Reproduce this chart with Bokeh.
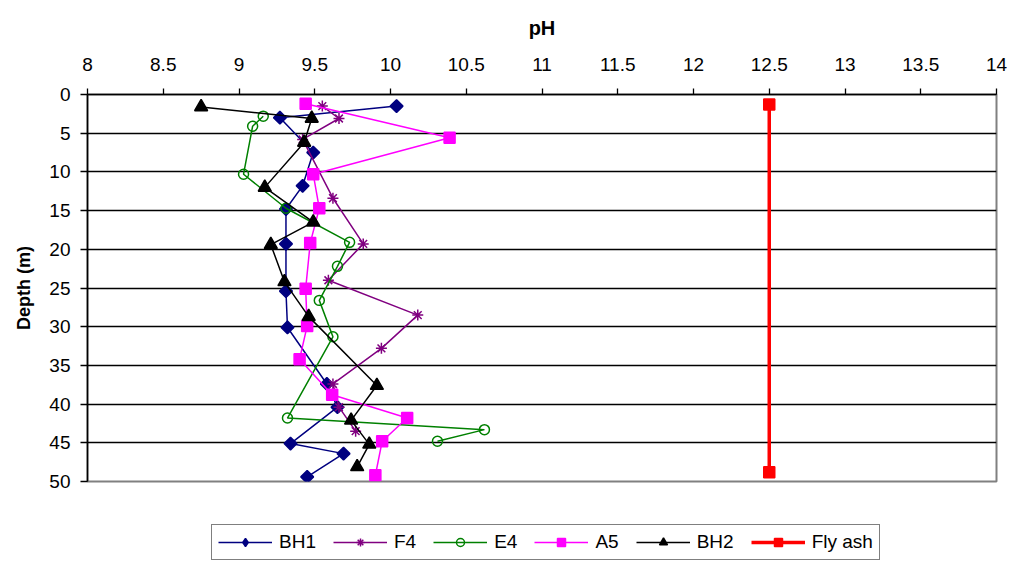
import math
from bokeh.plotting import figure
from bokeh.layouts import column
from bokeh.models import (Range1d, FixedTicker, NumeralTickFormatter, Legend, LegendItem)
from bokeh.embed import file_html
from bokeh.resources import INLINE

# ---- data (pH vs depth) ----
bh1_depth = [1.5, 3.0, 7.5, 11.8, 14.8, 19.3, 25.4, 30.1, 37.4, 40.4, 45.1, 46.4, 49.4]
bh1_ph = [10.04, 9.27, 9.49, 9.42, 9.31, 9.31, 9.31, 9.32, 9.58, 9.65, 9.34, 9.69, 9.45]

f4_depth = [1.5, 3.1, 5.8, 13.4, 19.3, 24.0, 28.5, 32.8, 37.4, 40.4, 43.5]
f4_ph = [9.55, 9.66, 9.42, 9.62, 9.82, 9.59, 10.18, 9.94, 9.62, 9.66, 9.77]

e4_depth = [2.8, 4.1, 10.3, 14.7, 19.1, 22.2, 26.6, 31.3, 41.8, 43.3, 44.8]
e4_ph = [9.16, 9.09, 9.03, 9.31, 9.73, 9.65, 9.53, 9.62, 9.32, 10.62, 10.31]

a5_depth = [1.2, 5.6, 10.3, 14.7, 19.2, 25.1, 29.9, 34.2, 38.8, 41.8, 44.8, 49.2]
a5_ph = [9.44, 10.39, 9.49, 9.53, 9.47, 9.44, 9.45, 9.40, 9.615, 10.11, 9.945, 9.90]

bh2_depth = [1.6, 3.1, 6.2, 12.0, 16.5, 19.4, 24.2, 28.7, 37.6, 42.1, 45.2, 48.1]
bh2_ph = [8.75, 9.48, 9.43, 9.17, 9.49, 9.21, 9.30, 9.46, 9.91, 9.74, 9.86, 9.78]

flyash_depth = [1.3, 48.8]
flyash_ph = [12.5, 12.5]

series_names = ["BH1", "F4", "E4", "A5", "BH2", "Fly ash"]

x_ticks = [8, 8.5, 9, 9.5, 10, 10.5, 11, 11.5, 12, 12.5, 13, 13.5, 14]
y_ticks = [0, 5, 10, 15, 20, 25, 30, 35, 40, 45, 50]

FONT = "Liberation Sans"

p = figure(frame_width=909, frame_height=387, output_backend="svg", toolbar_location=None,
           x_axis_location="above", x_range=Range1d(8, 14), y_range=Range1d(50, 0),
           min_border_left=87, min_border_right=14, min_border_top=94, min_border_bottom=10,
           background_fill_color="white", border_fill_color="white")

p.outline_line_color = "#808080"
p.outline_line_width = 2

p.xgrid.grid_line_color = None
p.ygrid.grid_line_color = "black"
p.ygrid.grid_line_width = 1.3
p.ygrid.ticker = FixedTicker(ticks=y_ticks)

xa = p.xaxis[0]
xa.ticker = FixedTicker(ticks=x_ticks)
xa.formatter = NumeralTickFormatter(format="0.[0]")
xa.axis_label = "pH"
ya = p.yaxis[0]
ya.ticker = FixedTicker(ticks=y_ticks)
ya.axis_label = "Depth (m)"

for ax in (xa, ya):
    ax.axis_line_color = "black"
    ax.axis_line_width = 1.5
    ax.major_tick_line_color = "black"
    ax.major_tick_line_width = 1.3
    ax.major_tick_in = 0
    ax.minor_tick_line_color = None
    ax.major_label_text_font = FONT
    ax.major_label_text_font_size = "19px"
    ax.major_label_text_color = "black"
    ax.axis_label_text_font = FONT
    ax.axis_label_text_font_style = "bold"
    ax.axis_label_text_color = "black"

xa.major_tick_out = 6
xa.major_label_standoff = 18
xa.axis_label_text_font_size = "20px"
xa.axis_label_standoff = 16
ya.major_tick_out = 7
ya.major_label_standoff = 10
ya.axis_label_text_font_size = "18px"
ya.axis_label_standoff = 12

# style per series: (colour, marker, size, angle, fill, line width of series line)
styles = [
    ("#000080", "square", 9, math.pi / 4, "#000080", 1.5),
    ("#800080", "asterisk", 11, 0.0, None, 1.5),
    ("#008000", "circle", 10, 0.0, None, 1.5),
    ("#FF00FF", "square", 11, 0.0, "#FF00FF", 1.5),
    ("black", "triangle", 13, 0.0, "black", 1.5),
    ("#FF0000", "square", 11, 0.0, "#FF0000", 3.5),
]
data = [(bh1_ph, bh1_depth), (f4_ph, f4_depth), (e4_ph, e4_depth),
        (a5_ph, a5_depth), (bh2_ph, bh2_depth), (flyash_ph, flyash_depth)]

for (xs, ys), (col, mk, sz, ang, fill, lw) in zip(data, styles):
    p.line(xs, ys, line_color=col, line_width=lw)
    p.scatter(xs, ys, marker=mk, size=sz, angle=ang, fill_color=fill,
              line_color=col, line_width=1.5)

# ---- legend strip (separate figure below the chart; its series lie outside its view) ----
p2 = figure(width=1010, height=74, output_backend="svg", toolbar_location=None,
            x_axis_type=None, y_axis_type=None, x_range=Range1d(0, 1), y_range=Range1d(0, 1),
            min_border_left=0, min_border_right=0, min_border_top=0, min_border_bottom=0,
            background_fill_color="white", border_fill_color="white")
p2.outline_line_color = None
p2.grid.grid_line_color = None

items = []
for name, (xs, ys), (col, mk, sz, ang, fill, lw) in zip(series_names, data, styles):
    rl = p2.line(xs, ys, line_color=col, line_width=lw)
    if ang:
        # legend swatch ignores rotation, so use a diamond glyph there
        rs = p2.scatter(xs, ys, marker="diamond", size=15, fill_color=fill,
                        line_color=col, line_width=1.5)
    else:
        rs = p2.scatter(xs, ys, marker=mk, size=sz, fill_color=fill,
                        line_color=col, line_width=1.5)
    items.append(LegendItem(label=name, renderers=[rl, rs]))

legend = Legend(items=items, orientation="horizontal", location=(124, 5),
                border_line_color="black", border_line_width=1.3,
                background_fill_color="white", background_fill_alpha=1,
                label_text_font=FONT, label_text_font_size="19px",
                label_text_color="black",
                glyph_width=54, glyph_height=20, label_standoff=7,
                spacing=17, padding=6, margin=0)
p2.add_layout(legend, "center")

layout = column(p, p2, spacing=0)
open("out.html", "w").write(file_html(layout, INLINE))
